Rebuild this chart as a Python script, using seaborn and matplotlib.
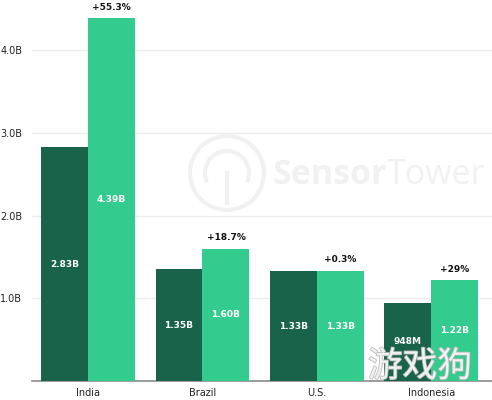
import seaborn as sns
import matplotlib.pyplot as plt
import matplotlib.patheffects as pe
from matplotlib.patches import Ellipse, Arc
import pandas as pd
import numpy as np

# datos
paises = ['India', 'Brazil', 'U.S.', 'Indonesia']
antes = [2.83, 1.35, 1.33, 0.948]
despues = [4.39, 1.60, 1.33, 1.22]
etiq_antes = ['2.83B', '1.35B', '1.33B', '948M']
etiq_despues = ['4.39B', '1.60B', '1.33B', '1.22B']
crecimiento = ['+55.3%', '+18.7%', '+0.3%', '+29%']
yticks = [1.0, 2.0, 3.0, 4.0]
ytick_labels = ['1.0B', '2.0B', '3.0B', '4.0B']

df = pd.DataFrame({
    'pais': paises * 2,
    'valor': antes + despues,
    'periodo': ['antes'] * 4 + ['despues'] * 4,
})

colores = ['#186349', '#34cb8f']

fig = plt.figure(figsize=(4.92, 4.0), dpi=100)
ax = fig.add_axes([0.065, 0.0475, 0.935, 0.9525])

sns.barplot(data=df, x='pais', y='valor', hue='periodo', palette=colores,
            width=0.82, saturation=1, ax=ax, legend=False, zorder=3)

ax.set_xlim(-0.49, 3.53)
ax.set_ylim(0, 4.61)
ax.set_yticks(yticks)
ax.set_yticklabels(ytick_labels)
ax.grid(axis='y', color='#ececec', linewidth=1, zorder=0)
ax.set_xlabel('')
ax.set_ylabel('')
for s in ['top', 'right', 'left']:
    ax.spines[s].set_visible(False)
ax.spines['bottom'].set_color('#8a8a8a')
ax.spines['bottom'].set_linewidth(1.2)
ax.tick_params(axis='both', length=0, labelsize=7, colors='#222222')
ax.tick_params(axis='y', pad=7)
ax.tick_params(axis='x', pad=5)

# etiquetas blancas dentro de las barras
for cont, textos in zip(ax.containers, [etiq_antes, etiq_despues]):
    for bar, t in zip(cont, textos):
        ax.text(bar.get_x() + bar.get_width() / 2, bar.get_height() / 2, t,
                ha='center', va='center', color='white', fontsize=6.5,
                fontweight='bold', zorder=5)

# crecimiento arriba de la barra clara
for bar, t in zip(ax.containers[1], crecimiento):
    ax.text(bar.get_x() + bar.get_width() / 2, bar.get_height() + 0.08, t,
            ha='center', va='bottom', color='#111111', fontsize=6.5,
            fontweight='bold', zorder=5)

# marca de agua SensorTower (muy tenue)
gris = '#f1f1f1'
cx, cy = 227 / 492, 1 - 173 / 400
fig.add_artist(Ellipse((cx, cy), 74 / 492, 74 / 400, transform=fig.transFigure,
                       fill=False, edgecolor=gris, linewidth=3, zorder=1))
fig.add_artist(Arc((cx, cy), 44 / 492, 44 / 400, theta1=-30, theta2=210,
                   transform=fig.transFigure, edgecolor=gris, linewidth=3, zorder=1))
fig.add_artist(plt.Line2D([cx, cx], [cy - 30 / 400, cy], transform=fig.transFigure,
                          color=gris, linewidth=3, zorder=1))
t1 = fig.text(272 / 492, 1 - 175 / 400, 'Sensor', fontsize=24.5, fontweight='bold', color=gris,
              ha='left', va='center', family='Open Sans', zorder=1)
ax.annotate('Tower', xy=(1, 0.5), xycoords=t1, ha='left', va='center',
            fontsize=24.5, color=gris, family='Open Sans', zorder=1,
            annotation_clip=False)

# marca de agua del sitio
fig.text(420 / 492, 1 - 367 / 400, '游戏狗', fontsize=25, color='#f4f4f4', alpha=0.9,
         ha='center', va='center', family=['Noto Sans CJK SC', 'DejaVu Sans'], zorder=6,
         path_effects=[pe.withStroke(linewidth=1.2, foreground='#b8b8b8')])

plt.savefig('out.png', dpi=100)
